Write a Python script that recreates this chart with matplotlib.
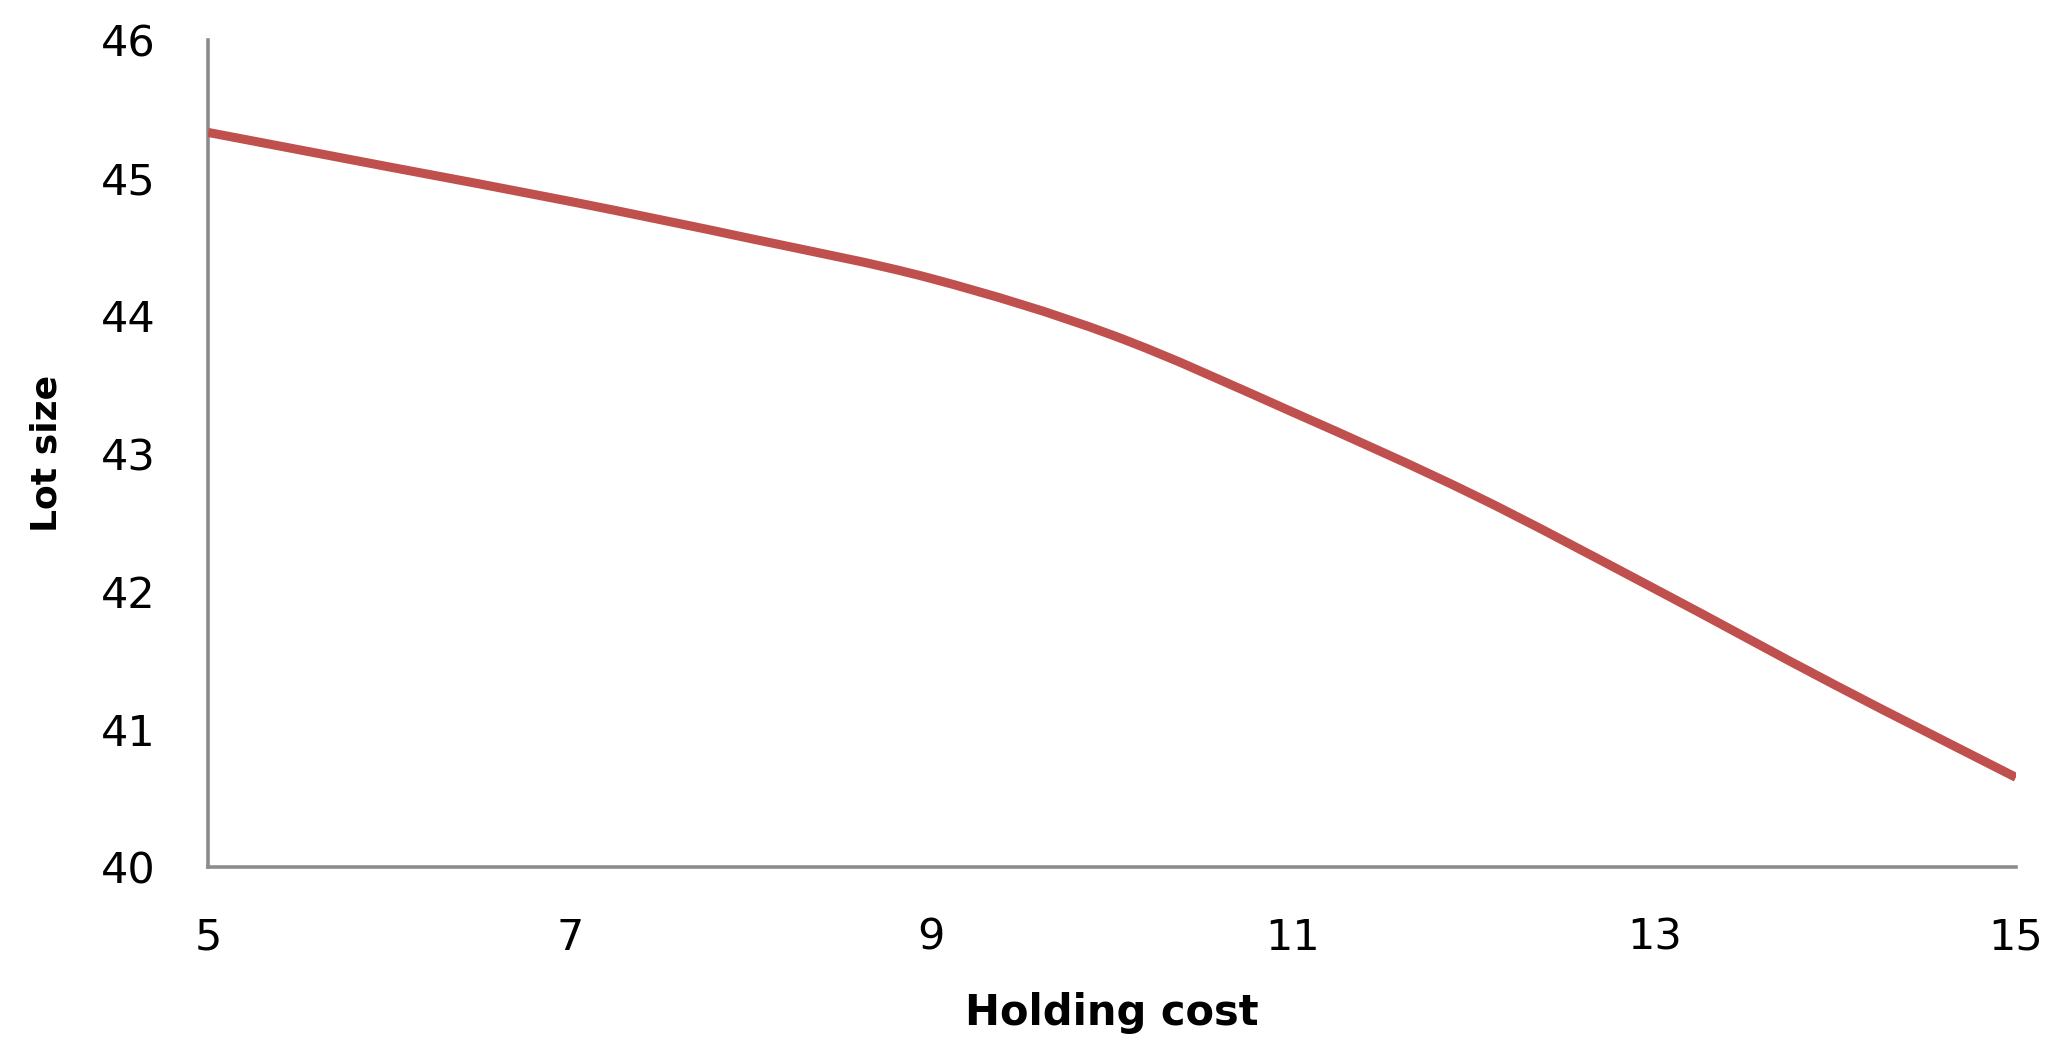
import matplotlib
matplotlib.use("Agg")
import matplotlib.pyplot as plt
from matplotlib.path import Path
from matplotlib.patches import PathPatch

# Lot size against holding cost
holdingCost = [5, 6, 7, 8, 9, 10, 11, 12, 13, 14, 15]
lotSize = [45.33, 45.08, 44.83, 44.56, 44.27, 43.86, 43.30, 42.70, 42.02, 41.32, 40.65]
xTicks = [5, 7, 9, 11, 13, 15]
yTicks = [40, 41, 42, 43, 44, 45, 46]

plt.rcParams['font.family'] = ['DejaVu Sans']


# Smoothed line like a spreadsheet "smoothed line" chart (Bezier through the points)
def smoothPath(xs, ys):
    pts = list(zip(xs, ys))
    verts = [pts[0]]
    codes = [Path.MOVETO]
    n = len(pts)
    for i in range(n - 1):
        p0 = pts[i - 1] if i > 0 else pts[i]
        p1 = pts[i]
        p2 = pts[i + 1]
        p3 = pts[i + 2] if i + 2 < n else pts[i + 1]
        c1 = (p1[0] + (p2[0] - p0[0]) / 6.0, p1[1] + (p2[1] - p0[1]) / 6.0)
        c2 = (p2[0] - (p3[0] - p1[0]) / 6.0, p2[1] - (p3[1] - p1[1]) / 6.0)
        verts += [c1, c2, p2]
        codes += [Path.CURVE4, Path.CURVE4, Path.CURVE4]
    return Path(verts, codes)


fig = plt.figure(figsize=(20.6, 10.52), dpi=100)
ax = fig.add_axes([0.101, 0.1759, 0.8776, 0.786])

ax.add_patch(PathPatch(smoothPath(holdingCost, lotSize), facecolor='none',
                       edgecolor='#C0504D', linewidth=6.5, capstyle='butt', zorder=3))

ax.set_xlim(5, 15)
ax.set_ylim(40, 46)
ax.set_xticks(xTicks)
ax.set_yticks(yTicks)
ax.tick_params(axis='both', length=0, labelsize=31, colors='black')
ax.tick_params(axis='x', pad=36)
ax.tick_params(axis='y', pad=38)

# Only left and bottom axis lines, in grey
for side in ['top', 'right']:
    ax.spines[side].set_visible(False)
for side in ['left', 'bottom']:
    ax.spines[side].set_color('#8c8c8c')
    ax.spines[side].set_linewidth(2.6)

ax.set_xlabel('Holding cost', fontsize=30, fontweight='bold', labelpad=24)
ax.set_ylabel('Lot size', fontsize=26, fontweight='bold')
ax.yaxis.set_label_coords(-0.080, 0.5)

fig.savefig('out.png', dpi=100, facecolor='white')
